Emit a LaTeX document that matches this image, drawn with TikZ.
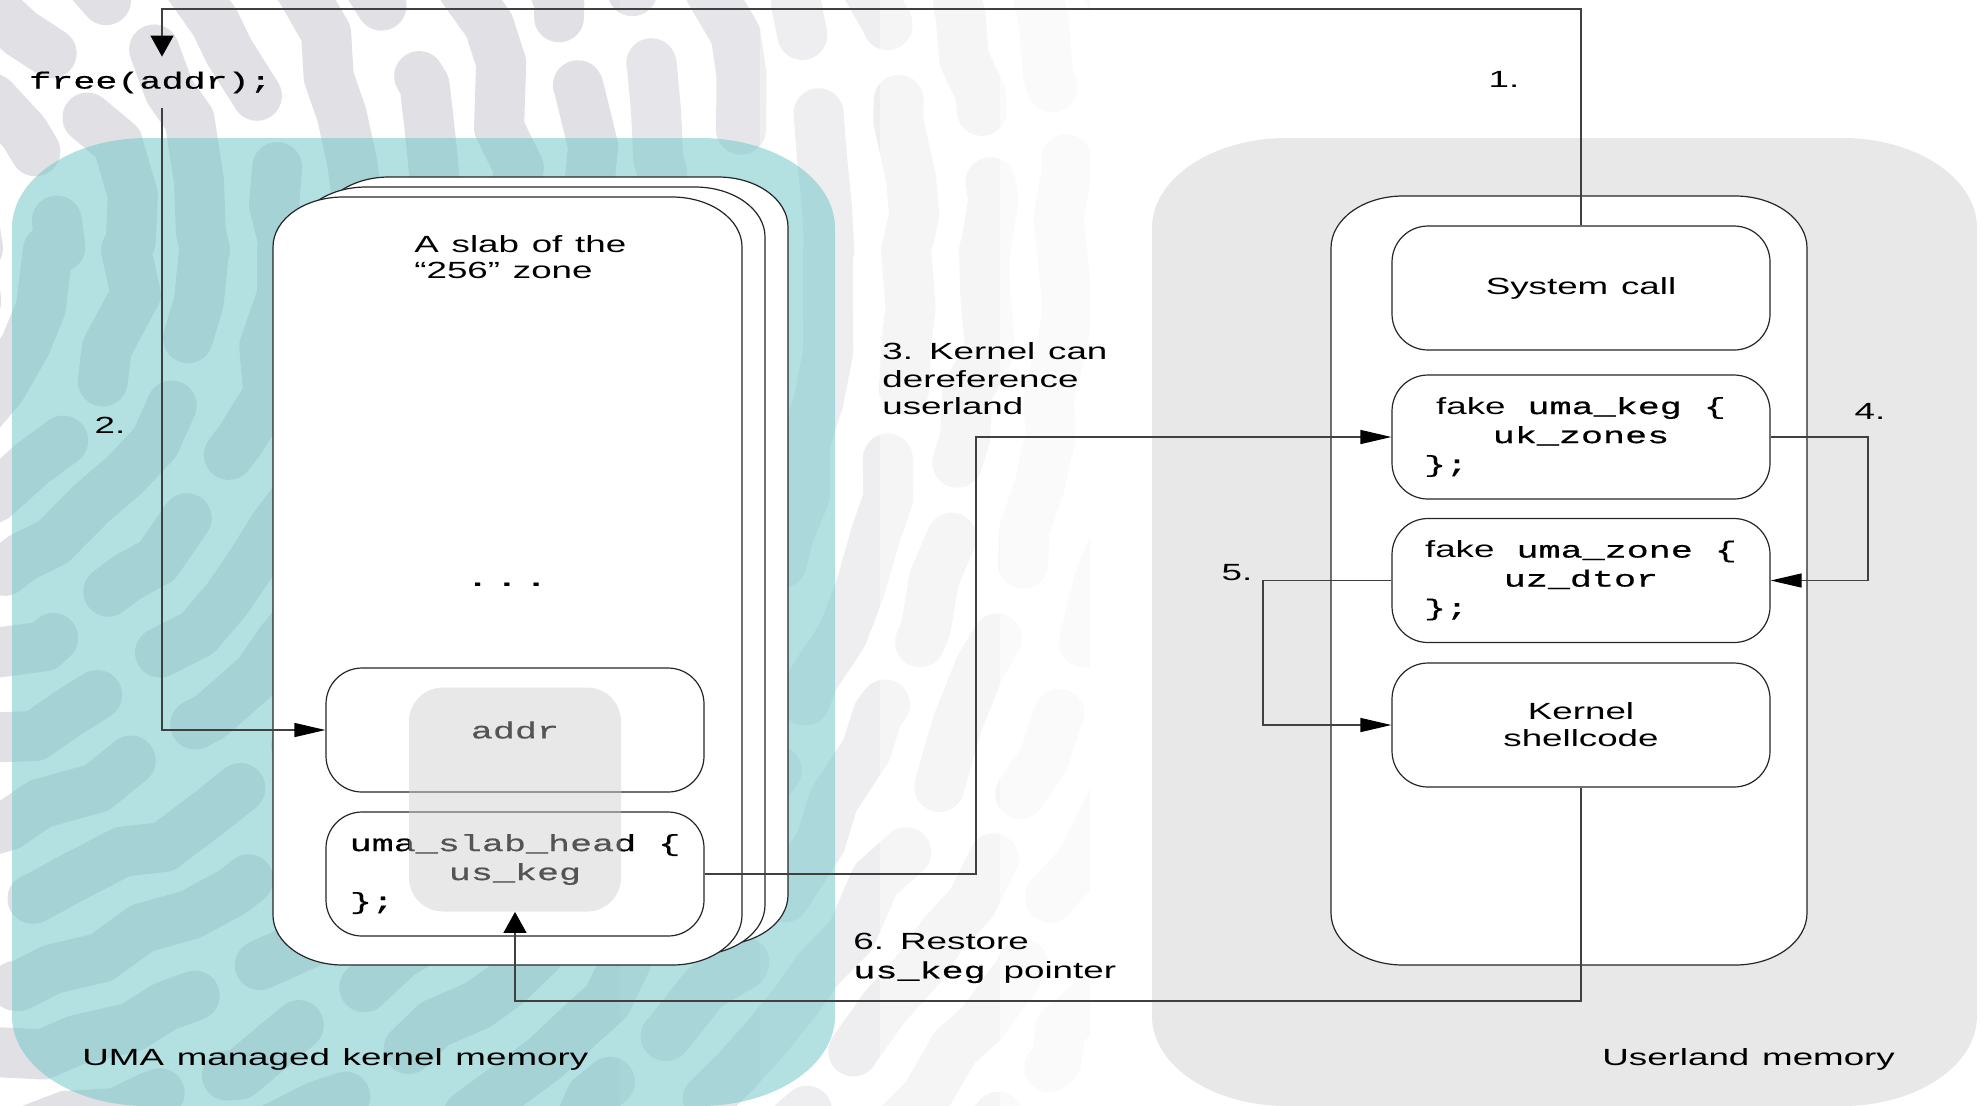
\documentclass[tikz,border=0pt]{standalone}
\usepackage{fontspec}
\setmainfont{Liberation Sans}[FakeStretch=1.57, WordSpace=1.25]
\newfontfamily\codefont{Liberation Mono}[FakeStretch=1.57, FakeBold=0.7]
\usetikzlibrary{arrows.meta, decorations.pathmorphing}

\definecolor{ridgeA}{RGB}{224,224,229}
\definecolor{ridgeB}{RGB}{230,230,234}
\definecolor{ridgeC}{RGB}{238,238,241}
\definecolor{ridgeD}{RGB}{245,245,246}
\definecolor{ridgeE}{RGB}{250,250,251}
\definecolor{tealbase}{RGB}{113,198,200}
\definecolor{userbg}{RGB}{232,232,232}
\definecolor{hlgray}{RGB}{202,202,202}

\newcommand\fs{\fontsize{11.7pt}{14pt}\selectfont}
\newcommand\fc{\fontsize{11.7pt}{14.5pt}\selectfont}
% one character cell of the code font
\newcommand\cs{\hspace*{11pt}}

% rounded rectangle with elliptical corners: style, x1, y1, x2, y2, rx, ry
\newcommand\rbox[7]{\path[#1] ({#2+#6},#3) -- ({#4-#6},#3)
  .. controls ({#4-0.4477*#6},#3) and (#4,{#3+0.4477*#7}) .. (#4,{#3+#7})
  -- (#4,{#5-#7})
  .. controls (#4,{#5-0.4477*#7}) and ({#4-0.4477*#6},#5) .. ({#4-#6},#5)
  -- ({#2+#6},#5)
  .. controls ({#2+0.4477*#6},#5) and (#2,{#5-0.4477*#7}) .. (#2,{#5-#7})
  -- (#2,{#3+#7})
  .. controls (#2,{#3+0.4477*#7}) and ({#2+0.4477*#6},#3) .. ({#2+#6},#3) -- cycle;}

% fingerprint-like ridges in the background
\newcommand\ridges[1]{%
  \pgfmathsetseed{4242}%
  \foreach \r/\s in {120/rb,198/rc,276/ra,354/rd,432/rb,510/ra,588/rc,666/rd,
      744/ra,822/rb,900/rd,978/rc,1056/ra,1134/rb,1212/rc,1290/rd,1368/ra,
      1446/rb,1524/rc,1602/rd}{%
    \draw[ridge, #1, \s] (-150,250) circle[radius=\r];}}

\begin{document}
\begin{tikzpicture}[x=0.5pt, y=-0.5pt, font=\fs,
  ridge/.style={line width=25pt, line cap=round, line join=round,
    decorate, decoration={random steps, segment length=24pt, amplitude=5pt}},
  ra/.style={dash pattern=on 70pt off 36pt on 130pt off 38pt},
  rb/.style={dash pattern=on 110pt off 38pt on 55pt off 36pt},
  rc/.style={dash pattern=on 160pt off 40pt on 80pt off 37pt},
  rd/.style={dash pattern=on 45pt off 35pt on 120pt off 38pt},
  slab/.style={draw=black!85, line width=0.6pt, fill=white},
  box/.style={draw=black!85, line width=0.6pt, fill=white, rounded corners=18pt,
    minimum width=189pt, minimum height=62pt, inner sep=0pt, align=center},
  codebox/.style={box, text width=175pt, font=\fc},
  lbl/.style={inner sep=0pt},
  link/.style={draw=black!75, line width=0.65pt},
  harr/.style={link, -{Triangle[length=15.5pt, width=7pt, black]}},
  varr/.style={link, -{Triangle[length=10.5pt, width=11.5pt, black]}}]

\useasboundingbox (0,0) rectangle (1984,1105);
\fill[white] (0,0) rectangle (1984,1105);

% background ridges, fading towards the right
\begin{scope}\clip (-10,-10) rectangle (620,1120); \ridges{draw=ridgeA}\end{scope}
\begin{scope}\clip (620,-10) rectangle (760,1120); \ridges{draw=ridgeB}\end{scope}
\begin{scope}\clip (760,-10) rectangle (880,1120); \ridges{draw=ridgeC}\end{scope}
\begin{scope}\clip (880,-10) rectangle (1000,1120); \ridges{draw=ridgeD}\end{scope}
\begin{scope}\clip (1000,-10) rectangle (1090,1120); \ridges{draw=ridgeE}\end{scope}

% memory regions
\rbox{fill=tealbase, fill opacity=0.53}{12}{138}{835}{1106}{135}{90}
\rbox{fill=userbg}{1152}{138}{1977}{1106}{135}{90}

% stacked slabs and the userland container
\rbox{slab}{319}{177}{788}{945}{70}{50}
\rbox{slab}{296}{187}{765}{955}{70}{50}
\rbox{slab}{273}{197}{742}{965}{70}{50}
\rbox{slab}{1331}{196}{1807}{965}{72}{52}

% slab contents
\node[lbl, align=left, anchor=west, font=\fontsize{11.7pt}{13.3pt}\selectfont]
  (slabtxt) at (414,257) {A slab of the\\“256” zone};
\node[lbl, font=\bfseries\fs] (dots) at (507,585) {.\hspace{9.5pt}.\hspace{9.5pt}.};
\node[box] (addr) at (515,730) {\codefont addr};
\node[codebox] (head) at (515,874)
  {{\codefont uma\_slab\_head}\cs{\codefont\{}\\{\codefont us\_keg}\\\hspace*{5pt}{\codefont \};}\hfill\mbox{}};
\node[fill=hlgray, fill opacity=0.42, rounded corners=17pt, minimum width=106pt,
  minimum height=112pt, inner sep=0pt] (hl) at (515,799.5) {};

% userland contents
\node[box] (sys) at (1581,288) {System call};
\node[codebox] (keg) at (1581,437)
  {fake\cs{\codefont uma\_keg}\cs{\codefont\{}\\{\codefont uk\_zones}\\\hspace*{9pt}{\codefont \};}\hfill\mbox{}};
\node[codebox] (zone) at (1581,580.5)
  {fake\cs{\codefont uma\_zone}\cs{\codefont\{}\\{\codefont uz\_dtor}\\\hspace*{9pt}{\codefont \};}\hfill\mbox{}};
\node[box, font=\fontsize{11.7pt}{13.5pt}\selectfont] (shell) at (1581,725) {Kernel\\shellcode};

% free() call
\node[lbl, font=\codefont\fs, minimum height=25.5pt] (free) at (150.5,82.5) {free(addr);};

% step labels
\node[lbl] (n1) at (1504,79) {1.};
\node[lbl] (n2) at (110,425.5) {2.};
\node[lbl, align=left, anchor=west, font=\fontsize{11.7pt}{13.75pt}\selectfont]
  (n3) at (882,379) {3. Kernel can\\dereference\\userland};
\node[lbl] (n4) at (1870,411) {4.};
\node[lbl] (n5) at (1237,573) {5.};
\node[lbl, align=left, anchor=west, font=\fontsize{11.7pt}{14.5pt}\selectfont]
  (n6) at (853,958) {6. Restore\\{\codefont us\_keg}\hspace*{9pt}pointer};

% region captions
\node[lbl, anchor=base west] (uma) at (82,1065) {UMA managed kernel memory};
\node[lbl, anchor=base west] (usr) at (1602,1065) {Userland memory};

% connectors
\coordinate (c1) at (162,9);
\coordinate (c3) at (976,437);
\coordinate (c4) at (1868,437);
\coordinate (c5) at (1263,580.5);
\coordinate (c6) at (1581,1001);
\draw[varr] (sys.north) |- (c1) -- (c1 |- free.north);
\draw[harr] (c1 |- free.south) |- (addr.west);
\draw[harr] (head.east) -| (c3) -- (keg.west);
\draw[harr] (keg.east) -- (c4) |- (zone.east);
\draw[harr] (zone.west) -- (c5) |- (shell.west);
\draw[varr] (shell.south) -- (c6) -| (hl.south);
\end{tikzpicture}
\end{document}
